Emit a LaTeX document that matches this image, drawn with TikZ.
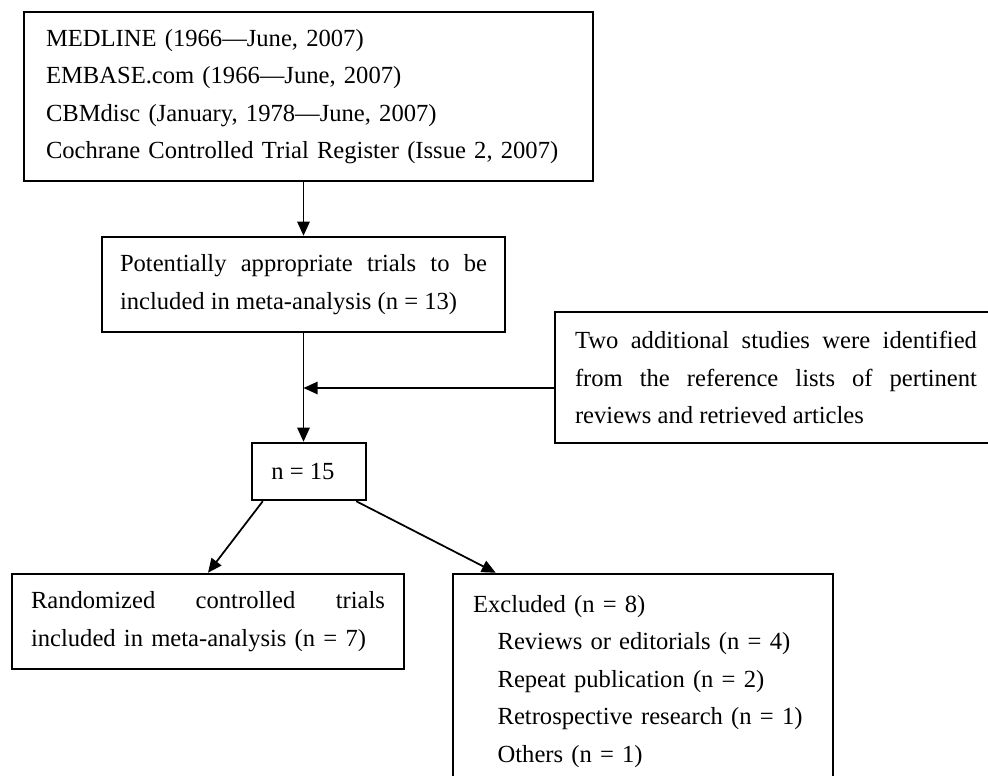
\documentclass[tikz,border=0pt]{standalone}
\usepackage{fontspec}
\setmainfont{Liberation Serif}
\usetikzlibrary{arrows.meta}

\begin{document}
\begin{tikzpicture}[
  box/.style={rectangle,draw=black,line width=1.4pt,inner sep=0pt,font=\fontsize{14}{21.3}\selectfont},
  arr/.style={draw=black,line width=1pt,-{Triangle[length=8pt,width=7pt]}}]

\useasboundingbox (0,0) rectangle (19.76,-15.52);

\node[box,minimum width=11.38cm,minimum height=3.38cm,text width=10.5cm,align=left] (search) at (6.17,-1.93)
  {MEDLINE (1966—June, 2007)\\
   EMBASE.com (1966—June, 2007)\\
   CBMdisc (January, 1978—June, 2007)\\
   Cochrane Controlled Trial Register (Issue 2, 2007)};

\node[box,minimum width=8.06cm,minimum height=1.9cm,text width=7.34cm,align=justify] (pool) at (6.07,-5.69)
  {Potentially appropriate trials to be\linebreak included in meta-analysis (n = 13)};

\node[box,minimum width=8.84cm,minimum height=2.62cm,text width=8.04cm,align=justify] (extra) at (15.52,-7.55)
  {Two additional studies were identified\linebreak from the reference lists of pertinent\linebreak reviews and retrieved articles};

\node[box,minimum width=2.28cm,minimum height=1.14cm] (total) at (6.18,-9.43) {n = 15\kern0.24cm};

\node[box,minimum width=7.84cm,minimum height=1.9cm,text width=7.08cm,align=left] (incl) at (4.16,-12.43)
  {\hbox to 7.08cm{Randomized\hfill controlled\hfill trials}\\
   included in meta-analysis (n = 7)};

\node[box,minimum width=7.6cm,minimum height=4.3cm,text width=6.8cm,align=left] (excl) at (12.86,-13.63)
  {Excluded (n = 8)\\
   \hspace*{1em}Reviews or editorials (n = 4)\\
   \hspace*{1em}Repeat publication (n = 2)\\
   \hspace*{1em}Retrospective research (n = 1)\\
   \hspace*{1em}Others (n = 1)};

\coordinate (merge) at (pool.south |- 0,-7.76);

\draw[arr] (search.south -| pool.north) -- (pool.north);
\draw[arr] (pool.south) -- (pool.south |- total.north);
\draw[arr] (extra.west |- merge) -- (merge);
\draw[arr] ([xshift=0.24cm]total.south west) -- (incl.north);
\draw[arr] ([xshift=-0.22cm]total.south east) -- ([xshift=0.88cm]excl.north west);
\end{tikzpicture}
\end{document}
